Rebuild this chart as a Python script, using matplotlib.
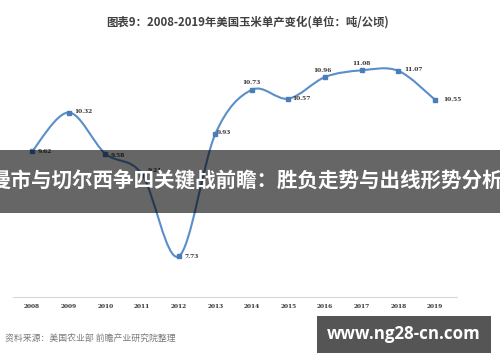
import numpy as np
import matplotlib.pyplot as plt
from matplotlib.path import Path
from matplotlib.patches import PathPatch, Rectangle

plt.rcParams['font.family'] = ['Noto Sans CJK SC', 'DejaVu Sans']

# data
years = [2008, 2009, 2010, 2011, 2012, 2013, 2014, 2015, 2016, 2017, 2018, 2019]
yields = [9.62, 10.32, 9.58, 9.21, 7.73, 9.93, 10.73, 10.57, 10.96, 11.08, 11.07, 10.55]
year_labels = [str(y) for y in years]

title = '图表9：2008-2019年美国玉米单产变化(单位：吨/公顷)'
source = '资料来源：美国农业部 前瞻产业研究院整理'
banner = '曼市与切尔西争四关键战前瞻：胜负走势与出线形势分析'
site = 'www.ng28-cn.com'

# label offsets (points) and alignment
label_pos = [(4, 0, 'left'), (4, 1, 'left'), (4, -1, 'left'), (4, 3, 'left'),
             (4, 0, 'left'), (1, 1, 'left'), (0, 5, 'center'), (3, 0, 'left'),
             (-2, 5, 'center'), (0, 5, 'center'), (4, 1, 'left'), (6, 0, 'left')]

fig = plt.figure(figsize=(5, 3.62), dpi=100)
ax = fig.add_axes([0.026, 0.1796, 0.888, 0.6906])
ax.set_xlim(2007.48, 2019.6)
ax.set_ylim(7.0, 11.5)

# smoothed line (bezier through the points)
pts = np.column_stack([years, yields]).astype(float)
n = len(pts)
verts = [pts[0]]
codes = [Path.MOVETO]
for i in range(n - 1):
    p0 = pts[max(i - 1, 0)]
    p1 = pts[i]
    p2 = pts[i + 1]
    p3 = pts[min(i + 2, n - 1)]
    verts += [p1 + (p2 - p0) / 6, p2 - (p3 - p1) / 6, p2]
    codes += [Path.CURVE4] * 3
ax.add_patch(PathPatch(Path(verts, codes), facecolor='none',
                       edgecolor='#5b8ec8', linewidth=1.5, zorder=2))
ax.plot(years, yields, linestyle='none', marker='s', markersize=3,
        color='#4a7ebb', zorder=3)

for x, y, (dx, dy, ha) in zip(years, yields, label_pos):
    ax.annotate(f'{y:.2f}', (x, y), xytext=(dx, dy), textcoords='offset points',
                ha=ha, va='center', fontsize=4.2, fontweight='bold',
                color='#333333', family='DejaVu Serif')

ax.set_xticks(years)
ax.set_xticklabels(year_labels, fontsize=4.2, fontweight='bold',
                   color='#333333', family='DejaVu Serif')
ax.set_yticks([])
ax.tick_params(axis='x', length=0, pad=5)
for s in ['top', 'left', 'right']:
    ax.spines[s].set_visible(False)
ax.spines['bottom'].set_color('#d9d9d9')
ax.spines['bottom'].set_linewidth(0.8)

fig.text(0.496, 0.94, title, ha='center', va='center', fontsize=8.2,
         fontweight='heavy', color='#404040')
fig.text(0.01, 0.063, source, ha='left', va='center', fontsize=6.4,
         color='#7a7a7a')

# overlay banners
fig.patches.append(Rectangle((0, 1 - 213 / 362), 1, 63 / 362, transform=fig.transFigure,
                             facecolor='black', alpha=0.6, edgecolor='none', zorder=5))
fig.text(0.492, 1 - 181 / 362, banner, ha='center', va='center', fontsize=14.8,
         fontweight='bold', color='white', zorder=6)
fig.patches.append(Rectangle((317 / 500, 1 - 353 / 362), 174 / 500, 37 / 362,
                             transform=fig.transFigure, facecolor='#555555',
                             edgecolor='none', zorder=5))
fig.text(404 / 500, 1 - 334 / 362, site, ha='center', va='center', fontsize=12.2,
         fontweight='bold', color='white', family=['Open Sans', 'DejaVu Sans'],
         zorder=6)

fig.savefig('out.png', dpi=100, facecolor='white')
